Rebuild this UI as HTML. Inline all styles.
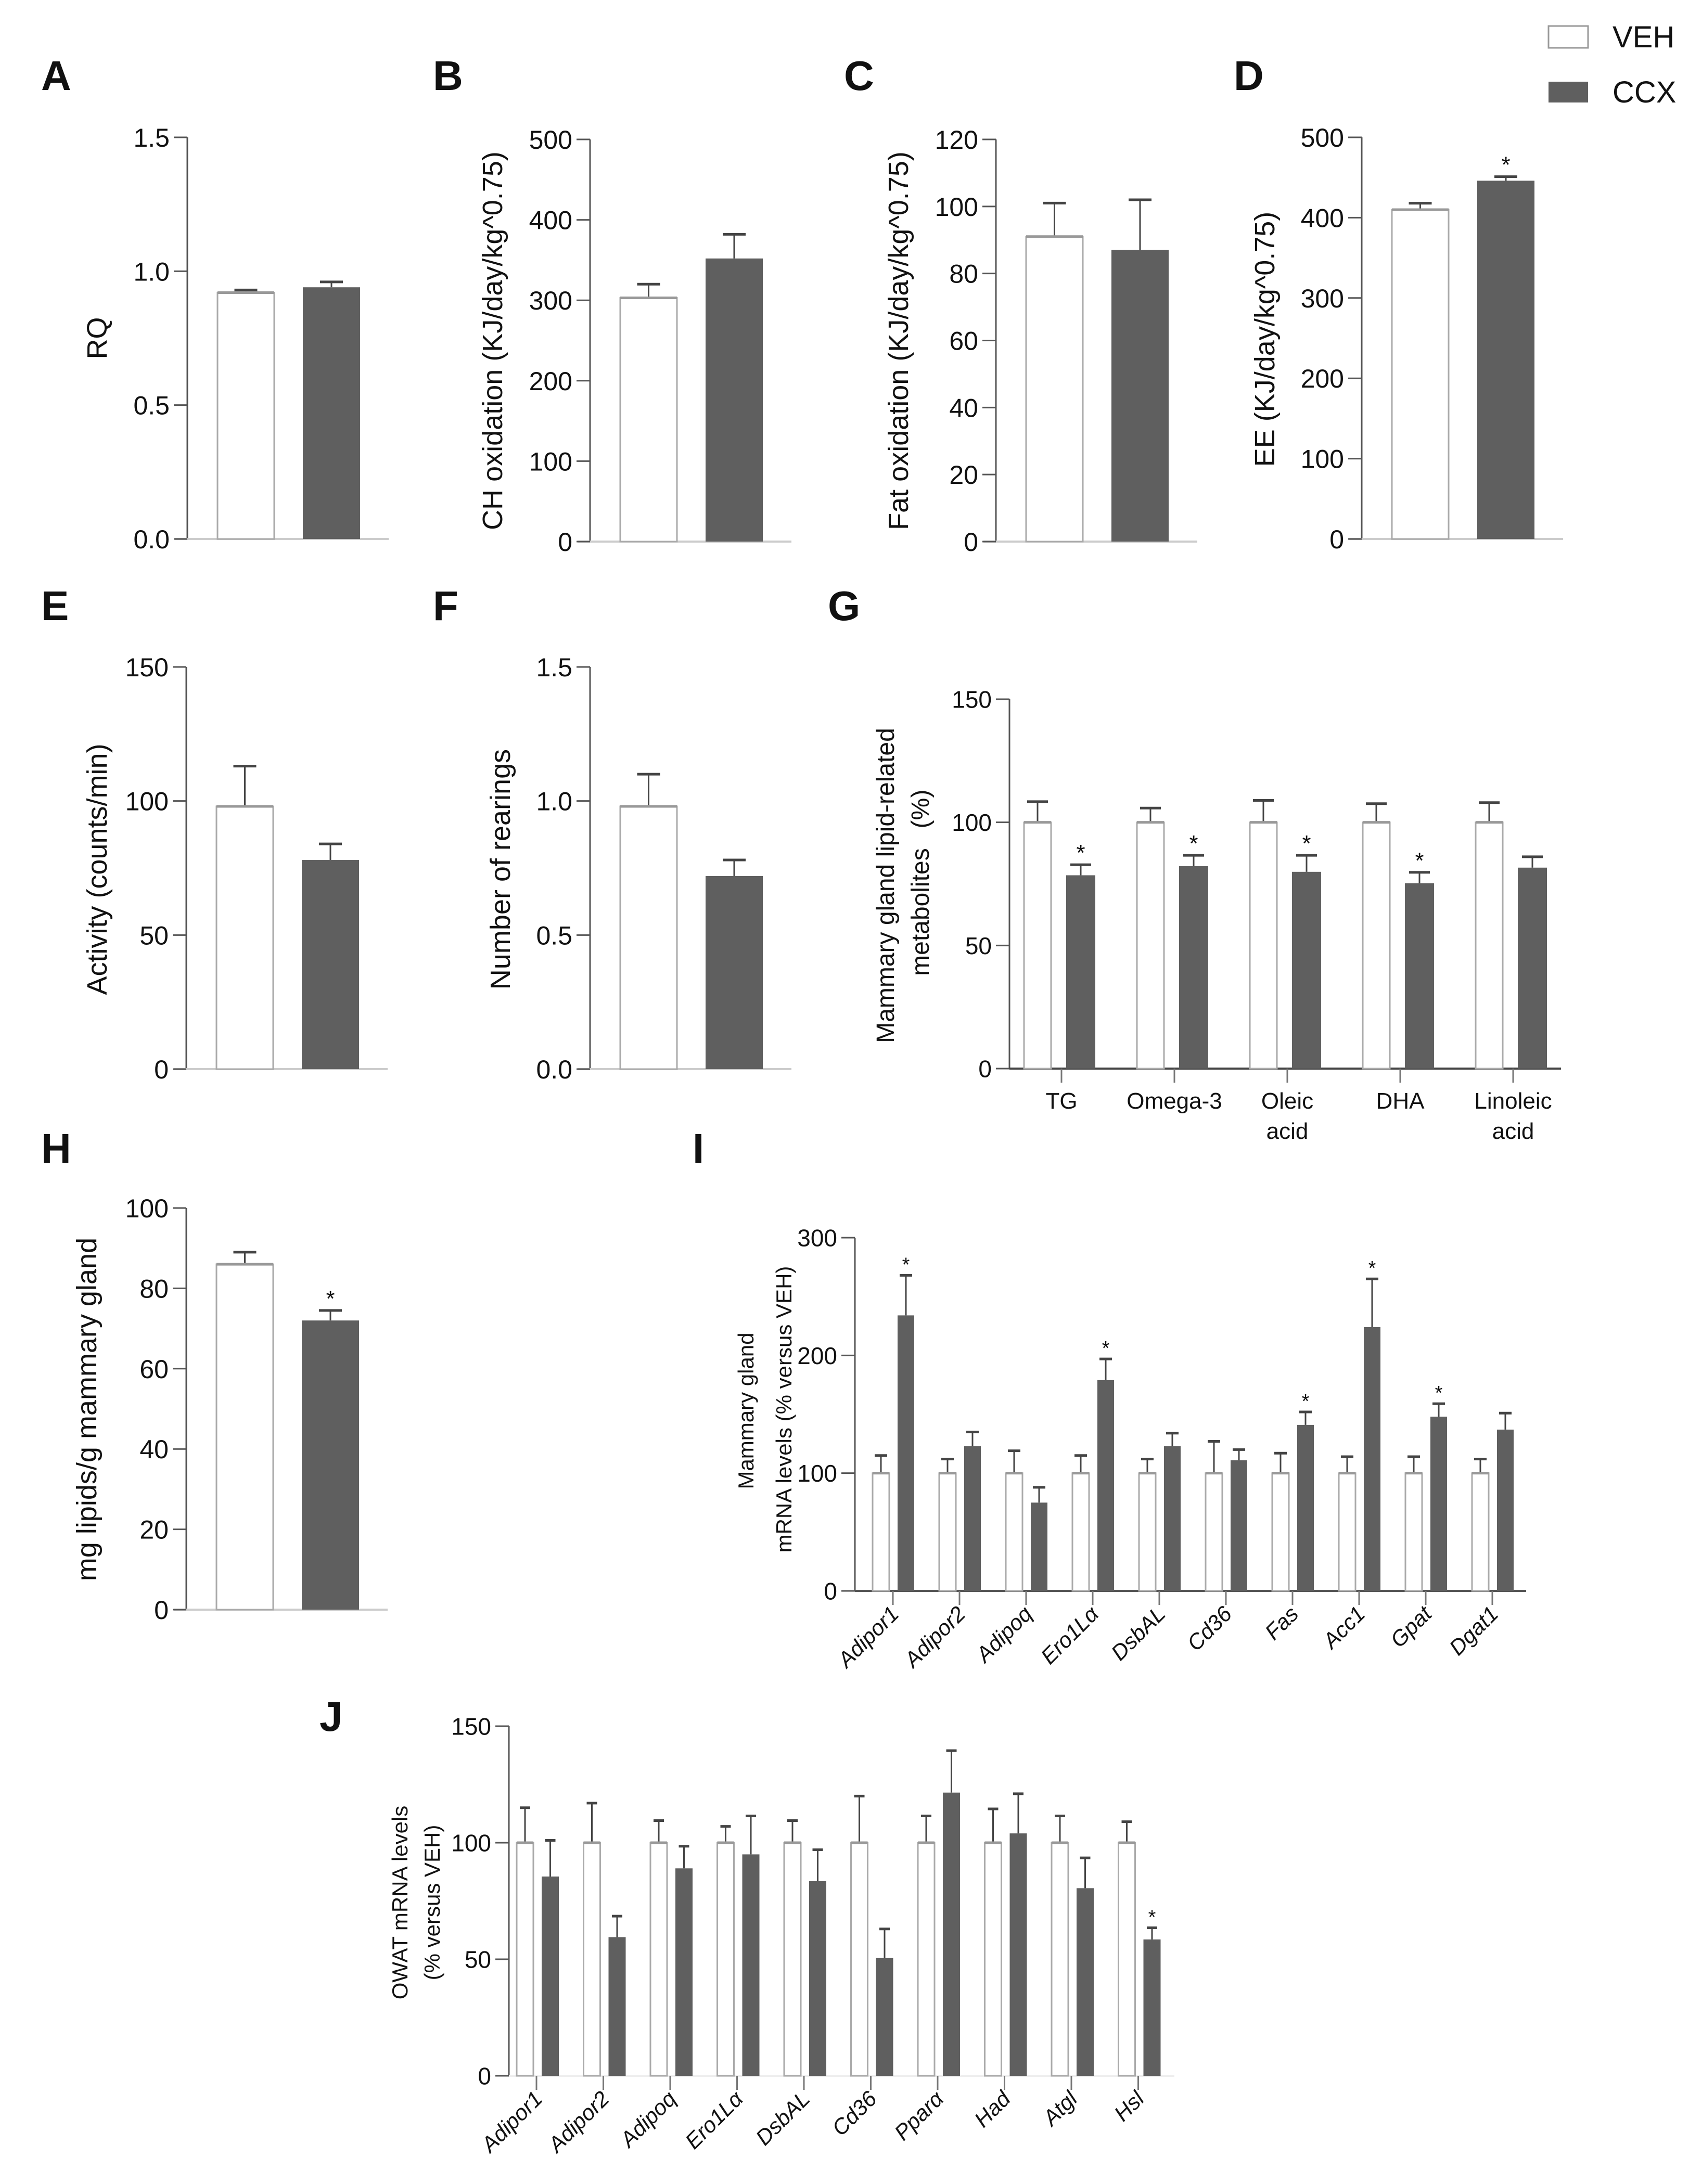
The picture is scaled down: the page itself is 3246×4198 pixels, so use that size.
<!DOCTYPE html>
<html><head><meta charset="utf-8"><style>
html,body{margin:0;padding:0;background:#fff}
svg{display:block}
text{font-family:"Liberation Sans",sans-serif;fill:#111}
</style></head><body>
<svg id="fig" width="3246" height="4198" viewBox="0 0 3246 4198" xmlns="http://www.w3.org/2000/svg">
<g>
<rect x="2976" y="50" width="76" height="42" fill="#fff" stroke="#999" stroke-width="3"/>
<text x="3099" y="91" font-size="58">VEH</text>
<rect x="2976" y="157" width="76" height="40" fill="#5f5f5f"/>
<text x="3099" y="197" font-size="58">CCX</text>
</g>
</svg>
<script>
// ---- data ----
const aTicks=["0.0","0.5","1.0","1.5"]; const aVeh=[0.92]; const aVehErr=[0.93]; const aCcx=[0.94]; const aCcxErr=[0.96]; const aSig=[false];
const bTicks=["0","100","200","300","400","500"]; const bVeh=[303]; const bVehErr=[320]; const bCcx=[352]; const bCcxErr=[382]; const bSig=[false];
const cTicks=["0","20","40","60","80","100","120"]; const cVeh=[91]; const cVehErr=[101]; const cCcx=[87]; const cCcxErr=[102]; const cSig=[false];
const dTicks=["0","100","200","300","400","500"]; const dVeh=[410]; const dVehErr=[418]; const dCcx=[446]; const dCcxErr=[451]; const dSig=[true];
const eTicks=["0","50","100","150"]; const eVeh=[98]; const eVehErr=[113]; const eCcx=[78]; const eCcxErr=[84]; const eSig=[false];
const fTicks=["0.0","0.5","1.0","1.5"]; const fVeh=[0.98]; const fVehErr=[1.10]; const fCcx=[0.72]; const fCcxErr=[0.78]; const fSig=[false];
const gCats=[["TG"],["Omega-3"],["Oleic","acid"],["DHA"],["Linoleic","acid"]];
const gTicks=["0","50","100","150"];
const gVeh=[100,100,100,100,100]; const gVehErr=[108.4,105.8,108.9,107.6,108];
const gCcx=[78.5,82.2,79.9,75.3,81.6]; const gCcxErr=[82.8,86.6,86.6,79.7,86]; const gSig=[true,true,true,true,false];
const hTicks=["0","20","40","60","80","100"]; const hVeh=[86]; const hVehErr=[89]; const hCcx=[72]; const hCcxErr=[74.5]; const hSig=[true];
const iCats=["Adipor1","Adipor2","Adipoq","Ero1Lα","DsbAL","Cd36","Fas","Acc1","Gpat","Dgat1"];
const iTicks=["0","100","200","300"];
const iVeh=[100,100,100,100,100,100,100,100,100,100];
const iVehErr=[115,112,119,115,112,127,117,114,114,112];
const iCcx=[234,123,75,179,123,111,141,224,148,137];
const iCcxErr=[268,135,88,197,134,120,152,265,159,151];
const iSig=[true,false,false,true,false,false,true,true,true,false];
const jCats=["Adipor1","Adipor2","Adipoq","Ero1Lα","DsbAL","Cd36","Pparα","Had","Atgl","Hsl"];
const jTicks=["0","50","100","150"];
const jVeh=[100,100,100,100,100,100,100,100,100,100];
const jVehErr=[115,117,109.5,107,109.5,120,111.5,114.5,111.5,109];
const jCcx=[85.5,59.5,89,95,83.5,50.5,121.5,104,80.5,58.5];
const jCcxErr=[101,68.5,98.5,111.5,97,63,139.5,121,93.5,63.5];
const jSig=[false,false,false,false,false,false,false,false,false,true];

const NS="http://www.w3.org/2000/svg";
const svg=document.getElementById('fig');
function mk(tag,attrs,parent,txt){const e=document.createElementNS(NS,tag);for(const k in attrs)e.setAttribute(k,attrs[k]);if(txt!==undefined)e.textContent=txt;(parent||svg).appendChild(e);return e;}

function panel(p){
  const g=mk('g',{});
  
  
  const tmax=parseFloat(p.ticks[p.ticks.length-1]);
  const y=v=>p.y0-(v/tmax)*(p.y0-p.yTop);
  // letter
  const L=mk('text',{x:p.lx,y:p.ly,'font-size':80,'font-weight':'bold'},g,p.id.toUpperCase());
  
  
  // axes
  const ax=mk('line',{x1:p.ax,y1:p.yTop,x2:p.ax,y2:p.y0,stroke:'#555','stroke-width':3},g);
  
  
  const bl=mk('line',{x1:p.ax-(p.baseExt||0),y1:p.y0,x2:p.xEnd,y2:p.y0,stroke:p.baseCol||'#ccc','stroke-width':p.baseW||4},g);
  
  
  p.ticks.forEach(t=>{
    const v=parseFloat(t), yy=y(v);
    const tk=mk('line',{x1:p.ax-26,y1:yy,x2:p.ax,y2:yy,stroke:'#555','stroke-width':3},g);
    
    
    const tl=mk('text',{x:p.ax-34,y:yy+p.fs*0.36,'font-size':p.fs,'text-anchor':'end'},g,t);
    
    
  });
  // y label
  p.ylab.forEach((ln,k)=>{
    const t=mk('text',{x:0,y:0,'font-size':p.yfs,'text-anchor':'middle',transform:`translate(${ln[1]},${ln[2]}) rotate(-90)`},g,ln[0]);
    
    
  });
  // bars
  for(let i=0;i<p.veh.length;i++){
    const c=p.cx(i);
    const wb=[c+p.w[0],c+p.w[1]], db=[c+p.d[0],c+p.d[1]];
    const drawErr=(xm,top,err,col,name)=>{
      const e1=mk('line',{x1:xm,y1:y(top),x2:xm,y2:y(err),stroke:col,'stroke-width':3},g);
      
      
      const e2=mk('line',{x1:xm-p.cap,y1:y(err),x2:xm+p.cap,y2:y(err),stroke:col,'stroke-width':5},g);
      
      
    };
    drawErr((wb[0]+wb[1])/2,p.veh[i],p.vehErr[i],'#444','error-bar-veh');
    const wr=mk('rect',{x:wb[0],y:y(p.veh[i]),width:wb[1]-wb[0],height:p.y0-y(p.veh[i]),fill:'#fff',stroke:'#aaa','stroke-width':3},g);
    
    
    const tc=mk('line',{x1:wb[0],y1:y(p.veh[i]),x2:wb[1],y2:y(p.veh[i]),stroke:'#999','stroke-width':5},g);
    
    
    drawErr((db[0]+db[1])/2,p.ccx[i],p.ccxErr[i],'#444','error-bar-ccx');
    const dr=mk('rect',{x:db[0],y:y(p.ccx[i]),width:db[1]-db[0],height:p.y0-y(p.ccx[i]),fill:'#5f5f5f'},g);
    
    
    if(p.sig[i]){
      const s=mk('text',{x:(db[0]+db[1])/2,y:y(p.ccxErr[i])-8,'font-size':p.sfs||44,'text-anchor':'middle'},g,'*');
      
      
    }
    if(p.cats){
      const tx=p.cx(i);
      const ct=mk('line',{x1:tx,y1:p.y0,x2:tx,y2:p.y0+p.tickDown,stroke:'#777','stroke-width':3},g);
      
      
      if(p.rot){
        const t=mk('text',{x:0,y:0,'font-size':p.cfs,'font-style':'italic','text-anchor':'end',transform:`translate(${tx+14},${p.y0+p.tickDown+20}) rotate(-45)`},g,p.cats[i]);
        
        
      }else{
        p.cats[i].forEach((ln,k)=>{
          const t=mk('text',{x:tx,y:p.catY+k*58,'font-size':p.cfs,'text-anchor':'middle'},g,ln);
          
          
        });
      }
    }
  }
}
const two={w:[58,167],d:[222,332],cap:22};
function twoPanel(id,ax,y0,yTop,ticks,veh,vehErr,ccx,ccxErr,sig,lx,ly,ylab){
  panel({id,ax,y0,yTop,ticks,veh,vehErr,ccx,ccxErr,sig,lx,ly,ylab,xEnd:ax+387,fs:50,yfs:54,cx:()=>ax,w:two.w,d:two.d,cap:two.cap,baseExt:24});
}
twoPanel('a',360,1036,264,aTicks,aVeh,aVehErr,aCcx,aCcxErr,aSig,79,173,[["RQ",205,650]]);
twoPanel('b',1134,1041,268,bTicks,bVeh,bVehErr,bCcx,bCcxErr,bSig,832,173,[["CH oxidation (KJ/day/kg^0.75)",965,655]]);
twoPanel('c',1914,1041,268,cTicks,cVeh,cVehErr,cCcx,cCcxErr,cSig,1622,173,[["Fat oxidation (KJ/day/kg^0.75)",1745,655]]);
twoPanel('d',2617,1036,264,dTicks,dVeh,dVehErr,dCcx,dCcxErr,dSig,2371,173,[["EE (KJ/day/kg^0.75)",2449,652]]);
twoPanel('e',358,2055,1282,eTicks,eVeh,eVehErr,eCcx,eCcxErr,eSig,79,1192,[["Activity (counts/min)",205,1671]]);
twoPanel('f',1134,2055,1282,fTicks,fVeh,fVehErr,fCcx,fCcxErr,fSig,832,1192,[["Number of rearings",980,1671]]);
twoPanel('h',358,3094,2322,hTicks,hVeh,hVehErr,hCcx,hCcxErr,hSig,79,2235,[["mg lipids/g mammary gland",185,2709]]);
panel({id:'g',ax:1940,y0:2054,yTop:1344,ticks:gTicks,veh:gVeh,vehErr:gVehErr,ccx:gCcx,ccxErr:gCcxErr,sig:gSig,
  lx:1591,ly:1192,ylab:[["Mammary gland lipid-related",1718,1702],["metabolites",1785,1753],["(%)",1785,1555]],
  xEnd:3000,fs:46,yfs:48,cx:i=>2040+217*i,w:[-72,-20],d:[9,65],cap:20,cats:gCats,tickDown:27,cfs:44,catY:2131,baseCol:'#444',baseW:4});
panel({id:'i',ax:1643,y0:3058,yTop:2379,ticks:iTicks,veh:iVeh,vehErr:iVehErr,ccx:iCcx,ccxErr:iCcxErr,sig:iSig,
  lx:1331,ly:2235,ylab:[["Mammary gland",1448,2712],["mRNA levels (% versus VEH)",1521,2709]],
  xEnd:2933,fs:46,yfs:42,cx:i=>1716+128*i,w:[-39,-7],d:[9,41],cap:12,sfs:38,cats:iCats,tickDown:27,cfs:42,rot:true,baseCol:'#555',baseW:4});
panel({id:'j',ax:978,y0:3990,yTop:3318,ticks:jTicks,veh:jVeh,vehErr:jVehErr,ccx:jCcx,ccxErr:jCcxErr,sig:jSig,
  lx:614,ly:3327,ylab:[["OWAT mRNA levels",783,3657],["(% versus VEH)",845,3657]],
  xEnd:2257,fs:46,yfs:42,cx:i=>1031+128.5*i,w:[-38,-6],d:[10,43],cap:10,sfs:38,cats:jCats,tickDown:27,cfs:42,rot:true,baseCol:'#eee',baseW:4});
</script>
</body></html>
